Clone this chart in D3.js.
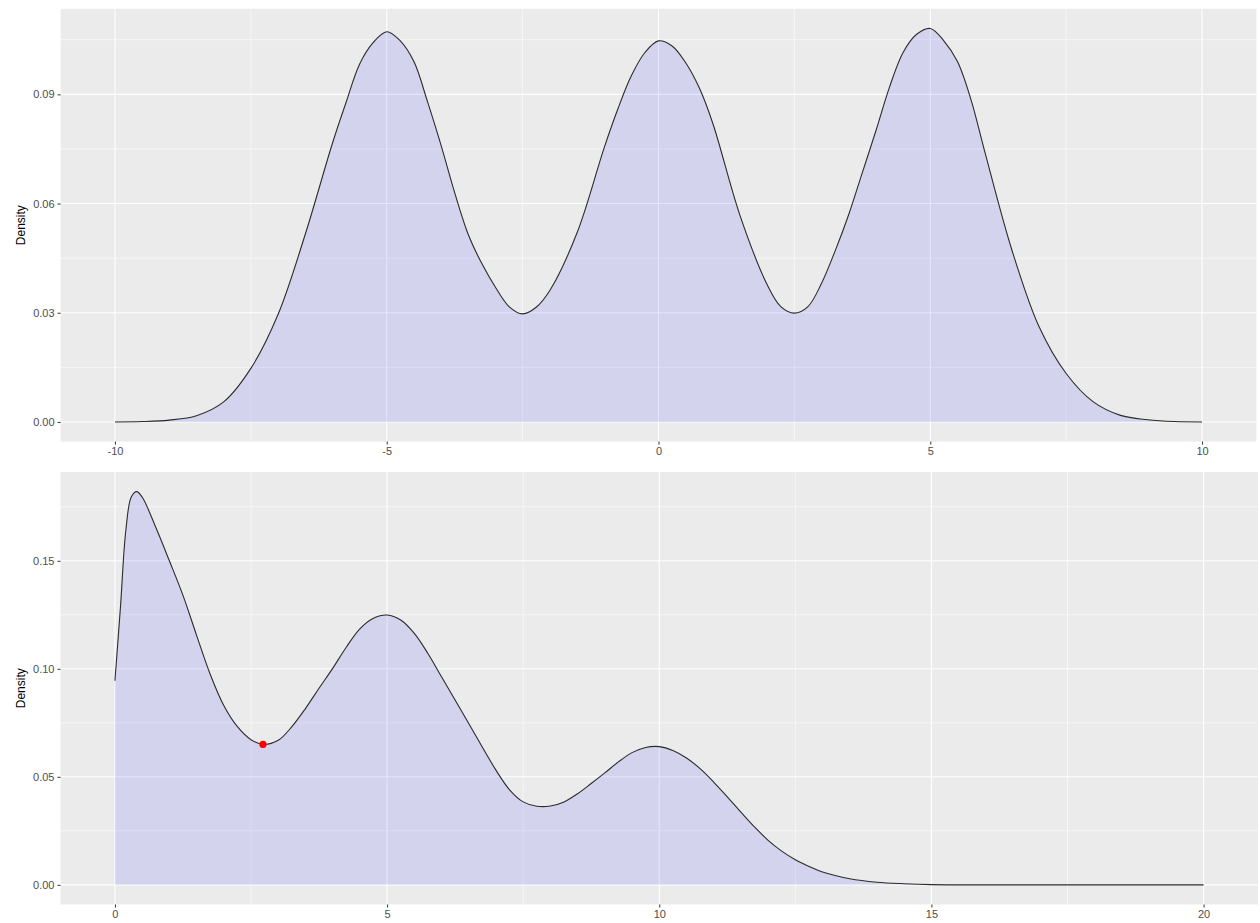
<!DOCTYPE html>
<html>
<head>
<meta charset="utf-8">
<script src="https://cdn.jsdelivr.net/npm/d3@7"></script>
<style>
  html, body { margin: 0; padding: 0; background: #ffffff; }
  svg { display: block; }
  text { font-family: "Liberation Sans", Arial, sans-serif; }
</style>
</head>
<body>
<svg id="chart" width="1260" height="923"></svg>
<script>
// ---------- data ----------
const topX = [-10, -9.5, -9, -8.5, -8, -7.5, -7, -6.5, -6, -5.75, -5.5, -5.25, -5, -4.75, -4.5, -4.25, -4, -3.75, -3.5, -3.25, -3, -2.75, -2.5, -2.25, -2, -1.5, -1, -0.75, -0.5, -0.25, 0, 0.25, 0.5, 0.75, 1, 1.5, 2, 2.25, 2.5, 2.75, 3, 3.25, 3.5, 3.75, 4, 4.25, 4.5, 4.75, 5, 5.25, 5.5, 5.75, 6, 6.5, 7, 7.5, 8, 8.5, 9, 9.5, 10];
const topDensity = [0, 0.0001, 0.0005, 0.0017, 0.0055, 0.0147, 0.0295, 0.0515, 0.0765, 0.0877, 0.0983, 0.1042, 0.1072, 0.1047, 0.0990, 0.0880, 0.0760, 0.0630, 0.0515, 0.0435, 0.0370, 0.0317, 0.0297, 0.0315, 0.0361, 0.0519, 0.0753, 0.0859, 0.0951, 0.1015, 0.1047, 0.1033, 0.0987, 0.0918, 0.0820, 0.0567, 0.0377, 0.0317, 0.0299, 0.0317, 0.0381, 0.0470, 0.0570, 0.0685, 0.0800, 0.0920, 0.1015, 0.1065, 0.1081, 0.1047, 0.0990, 0.0885, 0.0744, 0.0473, 0.0262, 0.0133, 0.0055, 0.0018, 0.0006, 0.0001, 0];

const bottomX = [0, 0.1, 0.2, 0.3, 0.4, 0.5, 0.75, 1, 1.25, 1.5, 1.75, 2, 2.25, 2.5, 2.72, 3, 3.25, 3.5, 3.75, 4, 4.25, 4.5, 4.75, 5, 5.25, 5.5, 5.75, 6, 6.5, 7, 7.25, 7.5, 7.75, 8, 8.25, 8.5, 8.75, 9, 9.25, 9.5, 9.75, 10, 10.25, 10.5, 10.75, 11, 11.25, 11.5, 11.75, 12, 12.25, 12.5, 12.75, 13, 13.5, 14, 14.5, 15, 16, 17, 18, 19, 20];
const bottomDensity = [0.0945, 0.128, 0.164, 0.1795, 0.182, 0.1795, 0.1655, 0.150, 0.134, 0.1155, 0.0975, 0.0830, 0.0732, 0.0672, 0.0650, 0.0669, 0.0732, 0.0816, 0.0910, 0.1002, 0.1100, 0.1185, 0.1234, 0.1249, 0.1226, 0.1164, 0.1071, 0.0963, 0.0747, 0.0531, 0.0440, 0.0384, 0.0364, 0.0365, 0.0384, 0.0422, 0.0469, 0.0518, 0.0569, 0.0612, 0.0636, 0.0640, 0.0622, 0.0587, 0.0538, 0.0476, 0.0407, 0.0337, 0.0268, 0.0206, 0.0156, 0.0116, 0.0085, 0.0059, 0.0028, 0.0012, 0.0005, 0.0001, 0, 0, 0, 0, 0];
const bottomFillMaxX = 15;
const markedPoint = { x: 2.72, y: 0.0650 };

const topXTicks = [-10, -5, 0, 5, 10];
const topXMinor = [-7.5, -2.5, 2.5, 7.5];
const topYTicks = [0, 0.03, 0.06, 0.09];
const topYMinor = [0.015, 0.045, 0.075, 0.105];
const bottomXTicks = [0, 5, 10, 15, 20];
const bottomXMinor = [2.5, 7.5, 12.5, 17.5];
const bottomYTicks = [0, 0.05, 0.10, 0.15];
const bottomYMinor = [0.025, 0.075, 0.125, 0.175];
const yTitle = "Density";

// ---------- drawing ----------
const svg = d3.select("#chart");
const curve = d3.curveCatmullRom.alpha(0.5);

function panel(opts) {
  const { xs, ys, xRange, yRange, xTicks, xMinor, yTicks, yMinor, fillMax, point } = opts;
  const data = xs.map((x, i) => ({ x, y: ys[i] }));
  const xMin = d3.min(xs), xMax = d3.max(xs);
  const yMax = d3.max(ys), yMin = 0;
  const xPad = (xMax - xMin) * 0.05, yPad = (yMax - yMin) * 0.05;
  const x = d3.scaleLinear().domain([xMin - xPad, xMax + xPad]).range(xRange);
  const y = d3.scaleLinear().domain([yMin - yPad, yMax + yPad]).range(yRange);

  const g = svg.append("g");
  g.append("rect")
    .attr("x", xRange[0]).attr("y", yRange[1])
    .attr("width", xRange[1] - xRange[0]).attr("height", yRange[0] - yRange[1])
    .attr("fill", "#EBEBEB");

  g.selectAll(".gxm").data(xMinor).join("line")
    .attr("x1", d => x(d)).attr("x2", d => x(d))
    .attr("y1", yRange[1]).attr("y2", yRange[0])
    .attr("stroke", "#ffffff").attr("stroke-width", 0.55);
  g.selectAll(".gym").data(yMinor).join("line")
    .attr("y1", d => y(d)).attr("y2", d => y(d))
    .attr("x1", xRange[0]).attr("x2", xRange[1])
    .attr("stroke", "#ffffff").attr("stroke-width", 0.55);
  g.selectAll(".gx").data(xTicks).join("line")
    .attr("x1", d => x(d)).attr("x2", d => x(d))
    .attr("y1", yRange[1]).attr("y2", yRange[0])
    .attr("stroke", "#ffffff").attr("stroke-width", 1.1);
  g.selectAll(".gy").data(yTicks).join("line")
    .attr("y1", d => y(d)).attr("y2", d => y(d))
    .attr("x1", xRange[0]).attr("x2", xRange[1])
    .attr("stroke", "#ffffff").attr("stroke-width", 1.1);

  const fillData = data.filter(d => d.x <= fillMax);
  g.append("path").datum(fillData)
    .attr("fill", "rgba(0,0,255,0.1)")
    .attr("d", d3.area().x(d => x(d.x)).y0(y(0)).y1(d => y(d.y)).curve(curve));
  g.append("path").datum(data)
    .attr("fill", "none").attr("stroke", "#2b2b2b").attr("stroke-width", 1.1)
    .attr("stroke-linejoin", "round")
    .attr("d", d3.line().x(d => x(d.x)).y(d => y(d.y)).curve(curve));

  if (point) {
    g.append("circle").attr("cx", x(point.x)).attr("cy", y(point.y)).attr("r", 3.6).attr("fill", "#FF0000");
  }

  const fmtY = d3.format(".2f");
  const xAxis = g.append("g").attr("transform", `translate(0,${yRange[0]})`)
    .call(d3.axisBottom(x).tickValues(xTicks).tickSize(3).tickPadding(3).tickFormat(d => String(d)));
  const yAxis = g.append("g").attr("transform", `translate(${xRange[0]},0)`)
    .call(d3.axisLeft(y).tickValues(yTicks).tickSize(3).tickPadding(3).tickFormat(fmtY));
  [xAxis, yAxis].forEach(a => {
    a.select(".domain").remove();
    a.selectAll(".tick line").attr("stroke", "#333333").attr("stroke-width", 1);
    a.selectAll(".tick text").attr("fill", "#4D4D4D").style("font-size", "11px")
      .style("font-family", "'Liberation Sans', Arial, sans-serif");
  });

  g.append("text")
    .attr("transform", `translate(25,${(yRange[0] + yRange[1]) / 2}) rotate(-90)`)
    .attr("text-anchor", "middle")
    .attr("fill", "#000000")
    .style("font-size", "12px")
    .text(yTitle);
}

panel({
  xs: topX, ys: topDensity,
  xRange: [60.6, 1256.4], yRange: [441.6, 8.8],
  xTicks: topXTicks, xMinor: topXMinor, yTicks: topYTicks, yMinor: topYMinor,
  fillMax: Infinity, point: null
});

panel({
  xs: bottomX, ys: bottomDensity,
  xRange: [60.5, 1258], yRange: [904.5, 472],
  xTicks: bottomXTicks, xMinor: bottomXMinor, yTicks: bottomYTicks, yMinor: bottomYMinor,
  fillMax: bottomFillMaxX, point: markedPoint
});
</script>
</body>
</html>
